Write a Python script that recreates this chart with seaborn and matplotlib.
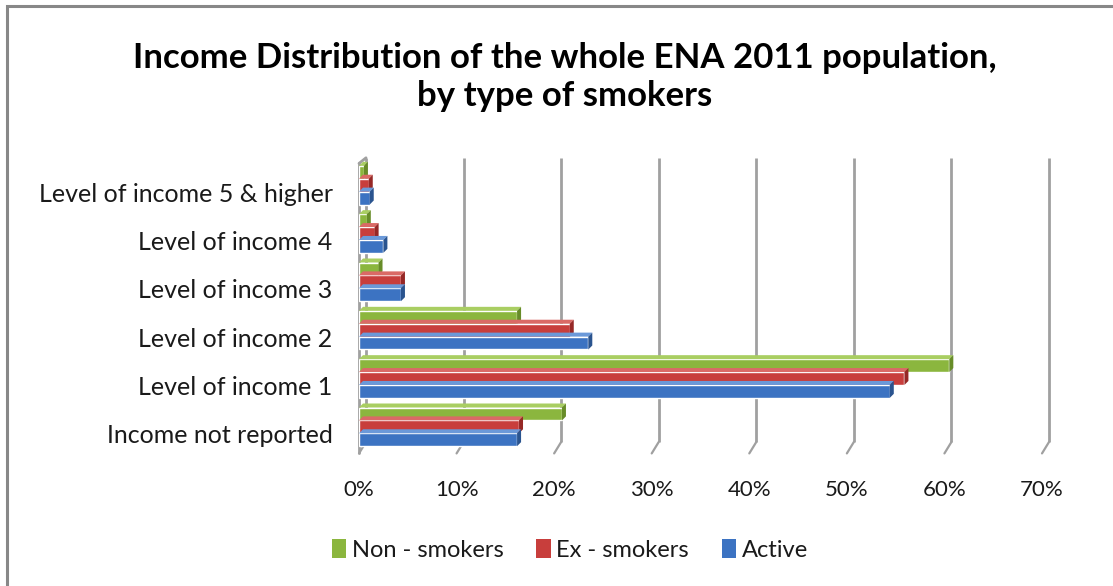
import matplotlib
matplotlib.use("Agg")
import matplotlib.pyplot as plt
from matplotlib.patches import Polygon, Rectangle
from matplotlib.ticker import PercentFormatter
from matplotlib.transforms import ScaledTranslation
import seaborn as sns
import pandas as pd

# Income levels (top to bottom) and share of each smoker group, in percent
categories = ["Level of income 5 & higher", "Level of income 4", "Level of income 3",
              "Level of income 2", "Level of income 1", "Income not reported"]
non_smokers = [0.5, 0.8, 2.0, 16.2, 60.5, 20.8]
ex_smokers = [1.0, 1.6, 4.3, 21.6, 55.9, 16.4]
active = [1.1, 2.5, 4.3, 23.5, 54.4, 16.2]
groups = ["Non - smokers", "Ex - smokers", "Active"]
x_ticks = [0, 10, 20, 30, 40, 50, 60, 70]

front = {"Non - smokers": "#8BB63E", "Ex - smokers": "#C83E3C", "Active": "#3C73C2"}
top = {"Non - smokers": "#A9CE62", "Ex - smokers": "#DA6A66", "Active": "#6B99D9"}
side = {"Non - smokers": "#678C28", "Ex - smokers": "#962826", "Active": "#2A548F"}

df = pd.DataFrame({
    "category": categories * 3,
    "group": [g for g in groups for _ in categories],
    "value": non_smokers + ex_smokers + active,
})

sns.set_theme(style="white")
plt.rcParams["font.family"] = ["Lato", "DejaVu Sans"]

W, H = 1113, 586
fig = plt.figure(figsize=(W / 100, H / 100), dpi=100)
ax_left, ax_right, ax_top, ax_bottom = 359, 1042, 161, 451
ax = fig.add_axes([ax_left / W, 1 - ax_bottom / H,
                   (ax_right - ax_left) / W, (ax_bottom - ax_top) / H])

sns.barplot(data=df, x="value", y="category", hue="group", order=categories,
            hue_order=groups, palette=front, width=0.8, orient="h",
            saturation=1, ax=ax, legend=False, zorder=3)

ax.set_xlim(0, 70)
ax.set_ylim(5.5, -0.5)

# depth of the pseudo-3D walls and bar faces, converted from pixels to data units
px_x = (ax_right - ax_left) / 70.0
px_y = (ax_bottom - ax_top) / 6.0
wall_dx, wall_dy = 7 / px_x, 9 / px_y
bar_dx, bar_dy = 4 / px_x, 4 / px_y

grid_col = "#A0A0A0"
# back-wall gridlines and floor edges
for t in x_ticks:
    ax.plot([t + wall_dx, t + wall_dx], [5.5 - wall_dy, -0.5 - wall_dy + 0.12],
            color=grid_col, lw=2, zorder=1, clip_on=False, solid_capstyle="butt")
    ax.plot([t, t + wall_dx], [5.5 + 0.05, 5.5 - wall_dy],
            color=grid_col, lw=1.6, zorder=1, clip_on=False)
# left wall
ax.plot([0, 0], [5.5 + 0.05, -0.5 + 0.05], color=grid_col, lw=2, zorder=1, clip_on=False)
ax.plot([0, wall_dx], [-0.5 + 0.05, -0.5 - wall_dy + 0.12], color=grid_col, lw=2,
        zorder=1, clip_on=False)

# top and side faces of each bar
for patch in list(ax.patches):
    x0, y0 = patch.get_x(), patch.get_y()
    w, h = patch.get_width(), patch.get_height()
    c = patch.get_facecolor()
    g = [k for k, v in front.items() if matplotlib.colors.to_hex(c).upper() == v.upper()]
    g = g[0] if g else groups[0]
    ax.add_patch(Polygon([(x0, y0), (x0 + w, y0), (x0 + w + bar_dx, y0 - bar_dy),
                          (x0 + bar_dx, y0 - bar_dy)], closed=True,
                         facecolor=top[g], edgecolor="none", zorder=3))
    ax.add_patch(Polygon([(x0 + w, y0), (x0 + w + bar_dx, y0 - bar_dy),
                          (x0 + w + bar_dx, y0 + h - bar_dy), (x0 + w, y0 + h)],
                         closed=True, facecolor=side[g], edgecolor="none", zorder=3))

ax.set_xticks(x_ticks)
ax.xaxis.set_major_formatter(PercentFormatter(decimals=0))
ax.tick_params(axis="x", length=0, pad=21, labelsize=16, colors="#1A1A1A")
ax.tick_params(axis="y", length=0, pad=19, labelsize=18, colors="#1A1A1A")
for lab in ax.get_yticklabels():
    lab.set_transform(lab.get_transform() + ScaledTranslation(0, -7 / 100, fig.dpi_scale_trans))
ax.set_xlabel("")
ax.set_ylabel("")
for s in ax.spines.values():
    s.set_visible(False)
ax.grid(False)

fig.text(565 / W, 1 - 77 / H, "Income Distribution of the whole ENA 2011 population,\nby type of smokers",
         ha="center", va="center", fontsize=25, fontweight="bold", color="#000000",
         linespacing=1.22)

handles = [Rectangle((0, 0), 1, 1, facecolor=front[g], edgecolor="none") for g in groups]
fig.legend(handles, groups, loc="center", bbox_to_anchor=(570 / W, 1 - 550 / H),
           ncol=3, frameon=False, fontsize=17, handlelength=0.6, handleheight=0.85,
           handletextpad=0.25, columnspacing=1.4, labelcolor="#1A1A1A")

fig.patches.append(Rectangle((7 / W, -0.2), 1.2, 1.2 - 6 / H,
                             transform=fig.transFigure, fill=False,
                             edgecolor="#888888", lw=2.2))

fig.savefig("out.png", dpi=100)
